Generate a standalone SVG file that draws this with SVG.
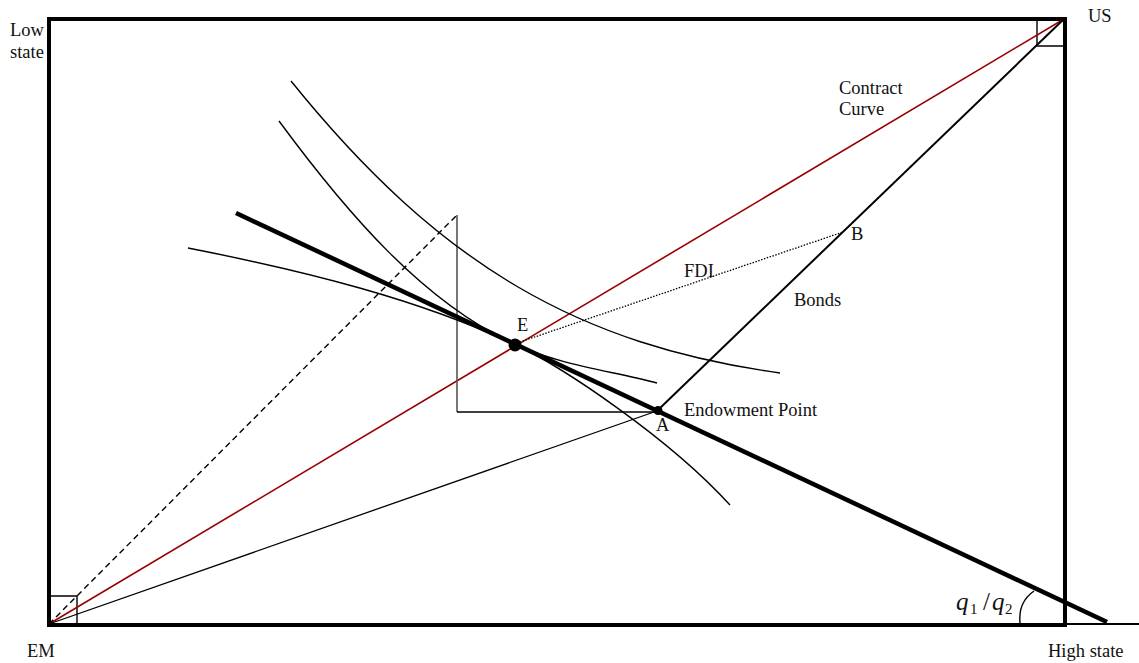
<svg xmlns="http://www.w3.org/2000/svg" width="1139" height="663" viewBox="0 0 1139 663">
<style>
text{font-family:"Liberation Serif","Times New Roman",serif;font-size:18.5px;fill:#111}
text.q{font-size:25px}
.thin{fill:none;stroke:#000;stroke-width:1.4}
.ic{fill:none;stroke:#000;stroke-width:1.4}
</style>
<rect width="1139" height="663" fill="#fff"/>
<g id="box">
<rect x="49" y="19" width="1016" height="606" fill="none" stroke="#000" stroke-width="4"/>
<line x1="1065" y1="624" x2="1139" y2="624" stroke="#000" stroke-width="2"/>
<path class="thin" d="M49 596 H77 V624"/>
<path class="thin" d="M1037 19 V46 H1064"/>
</g>
<g id="connectors">
<line id="contract-curve" x1="49" y1="624" x2="1064" y2="19" stroke="#990000" stroke-width="1.6"/>
<line id="bonds" x1="658" y1="410" x2="1064" y2="19" stroke="#000" stroke-width="2"/>
<line id="dashed" x1="49" y1="624" x2="457" y2="215" stroke="#000" stroke-width="1.4" stroke-dasharray="6 4"/>
<line x1="457" y1="215" x2="457" y2="412" stroke="#555" stroke-width="1.6"/>
<line x1="457" y1="412" x2="658" y2="412" stroke="#000" stroke-width="1.4"/>
<line x1="49" y1="624" x2="654" y2="412" stroke="#000" stroke-width="1.3"/>
<line id="fdi" x1="514" y1="344" x2="843" y2="232" stroke="#000" stroke-width="1.3" stroke-dasharray="1.5 1.5"/>
<line id="budget" x1="236" y1="213" x2="1107" y2="622" stroke="#000" stroke-width="4.5"/>
<path id="angle" class="thin" d="M1020 623 Q1018 602 1034 591"/>
</g>
<g id="indifference-curves">
<path class="ic" d="M279 121 C349 216 424 302 514 344 C559 365 612 371 657 383"/>
<path class="ic" d="M188 248 C310 272 420 300 514 344 C564 367.5 670 439 730 505"/>
<path class="ic" d="M291 81 C441 267 580 345 780 373"/>
</g>
<g id="node-E"><circle cx="515" cy="345" r="6.5" fill="#000"/><text x="517" y="331">E</text></g>
<g id="node-A"><circle cx="658" cy="410.5" r="4.5" fill="#000"/><text x="656" y="431">A</text></g>
<g id="node-B"><text x="851" y="240">B</text></g>
<g id="label-endowment"><text x="684" y="416">Endowment Point</text></g>
<g id="label-fdi"><text x="684" y="277">FDI</text></g>
<g id="label-bonds"><text x="794" y="306">Bonds</text></g>
<g id="label-contract"><text x="839" y="94">Contract</text><text x="839" y="115">Curve</text></g>
<g id="label-low"><text x="10" y="36">Low</text><text x="10" y="58">state</text></g>
<g id="label-us"><text x="1088" y="22">US</text></g>
<g id="label-em"><text x="27" y="657">EM</text></g>
<g id="label-high"><text x="1048" y="657">High state</text></g>
<g id="label-q"><text class="q" y="610"><tspan x="956" font-style="italic">q</tspan><tspan x="970" dy="4" font-size="15">1</tspan><tspan x="983" dy="-4">/</tspan><tspan x="992" font-style="italic">q</tspan><tspan x="1005" dy="4" font-size="15">2</tspan></text></g>
</svg>
